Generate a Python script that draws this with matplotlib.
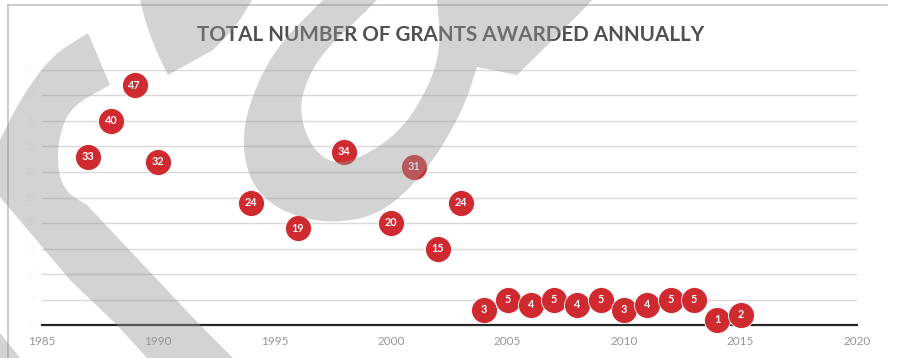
import matplotlib
matplotlib.use('Agg')
import numpy as np
import matplotlib.pyplot as plt
from matplotlib.patches import Polygon
from matplotlib.lines import Line2D

# grants awarded per year
years = [1987, 1988, 1989, 1990, 1994, 1996, 1998, 2000, 2001, 2002, 2003,
         2004, 2005, 2006, 2007, 2008, 2009, 2010, 2011, 2012, 2013, 2014, 2015]
grants = [33, 40, 47, 32, 24, 19, 34, 20, 31, 15, 24,
          3, 5, 4, 5, 4, 5, 3, 4, 5, 5, 1, 2]

x_ticks = [1985, 1990, 1995, 2000, 2005, 2010, 2015, 2020]
y_ticks = [0, 5, 10, 15, 20, 25, 30, 35, 40, 45, 50]
title = 'TOTAL NUMBER OF GRANTS AWARDED ANNUALLY'

W, H = 898, 358
plt.rcParams['font.family'] = ['Lato', 'DejaVu Sans']


def chaikin(pts, n=3):
    # corner cutting, keeps both end points
    pts = np.asarray(pts, float)
    for _ in range(n):
        a, b = pts[:-1], pts[1:]
        mid = np.empty((2 * len(a), 2))
        mid[0::2] = 0.75 * a + 0.25 * b
        mid[1::2] = 0.25 * a + 0.75 * b
        pts = np.vstack([pts[:1], mid, pts[-1:]])
    return pts


def outline(*edges):
    # edges: (points, smooth) pieces joined into one outline, in pixels
    out = []
    for pts, smooth in edges:
        out.append(chaikin(pts) if smooth else np.asarray(pts, float))
    pts = np.vstack(out)
    return np.column_stack([pts[:, 0] / W, 1 - pts[:, 1] / H])


fig = plt.figure(figsize=(W / 100, H / 100), dpi=100)
ax = fig.add_axes([41.5 / W, 1 - 325 / H, (857 - 41.5) / W, 255 / H])
ax.set_xlim(1985, 2020)
ax.set_ylim(0, 50)
ax.set_xticks(x_ticks)
ax.set_yticks(y_ticks)
ax.yaxis.grid(True, color='#d9d9d9', lw=1.0)
ax.set_axisbelow(True)
for side in ['top', 'right', 'left']:
    ax.spines[side].set_visible(False)
ax.spines['bottom'].set_color('#262626')
ax.spines['bottom'].set_linewidth(1.6)
ax.tick_params(axis='x', length=0, pad=8, labelsize=8.5, labelcolor='#969696')
ax.tick_params(axis='y', length=0, pad=4, labelsize=7, labelcolor='#f6f6f6')

ax.scatter(years, grants, s=350, c='#cf2a2f', edgecolors='white',
           linewidths=0.6, zorder=3, clip_on=False)
for yr, n in zip(years, grants):
    ax.text(yr, n, str(n), ha='center', va='center', color='white',
            fontsize=7.8, fontweight='bold', zorder=4)

fig.text(451 / W, 1 - 35 / H, title, ha='center', va='center',
         fontsize=14.9, fontweight='bold', color='#505050')

# chart frame (left and top edges)
fig.add_artist(Line2D([8 / W, 8 / W], [0, 1 - 5 / H], color='#c4c4c4', lw=1.2))
fig.add_artist(Line2D([8 / W, 887 / W], [1 - 5 / H, 1 - 5 / H], color='#c4c4c4', lw=1.2))

# watermark strokes
shapes = [
    outline(([(110, 85), (88, 33)], False),
            ([(88, 33), (50, 57), (20, 100), (0, 140)], True),
            ([(0, 140), (0, 197), (70, 280), (117, 325), (147, 358),
              (233, 358), (200, 325), (87, 205)], False),
            ([(87, 205), (67, 193), (58, 173), (58, 140), (70, 107),
              (110, 85)], True)),
    outline(([(140, 0), (147, 27), (157, 53), (168, 75)], True),
            ([(168, 75), (213, 50)], False),
            ([(213, 50), (235, 28), (252, 0)], True)),
    outline(([(323, 0), (280, 43), (257, 83), (243, 127), (245, 165),
              (258, 193), (285, 213), (330, 224), (383, 214), (430, 167),
              (463, 110), (477, 67)], True),
            ([(477, 67), (517, 75), (580, 13), (592, 0), (437, 0)], False),
            ([(437, 0), (441, 43), (431, 83), (399, 135), (343, 167),
              (313, 152), (298, 110), (310, 72), (330, 45), (357, 20),
              (377, 0)], True)),
    outline(([(0, 333), (20, 358), (0, 358)], False)),
]
for pts in shapes:
    fig.add_artist(Polygon(pts, closed=True, facecolor='#969696',
                           edgecolor='none', alpha=0.42,
                           transform=fig.transFigure, zorder=10))

fig.savefig('out.png', dpi=100)
